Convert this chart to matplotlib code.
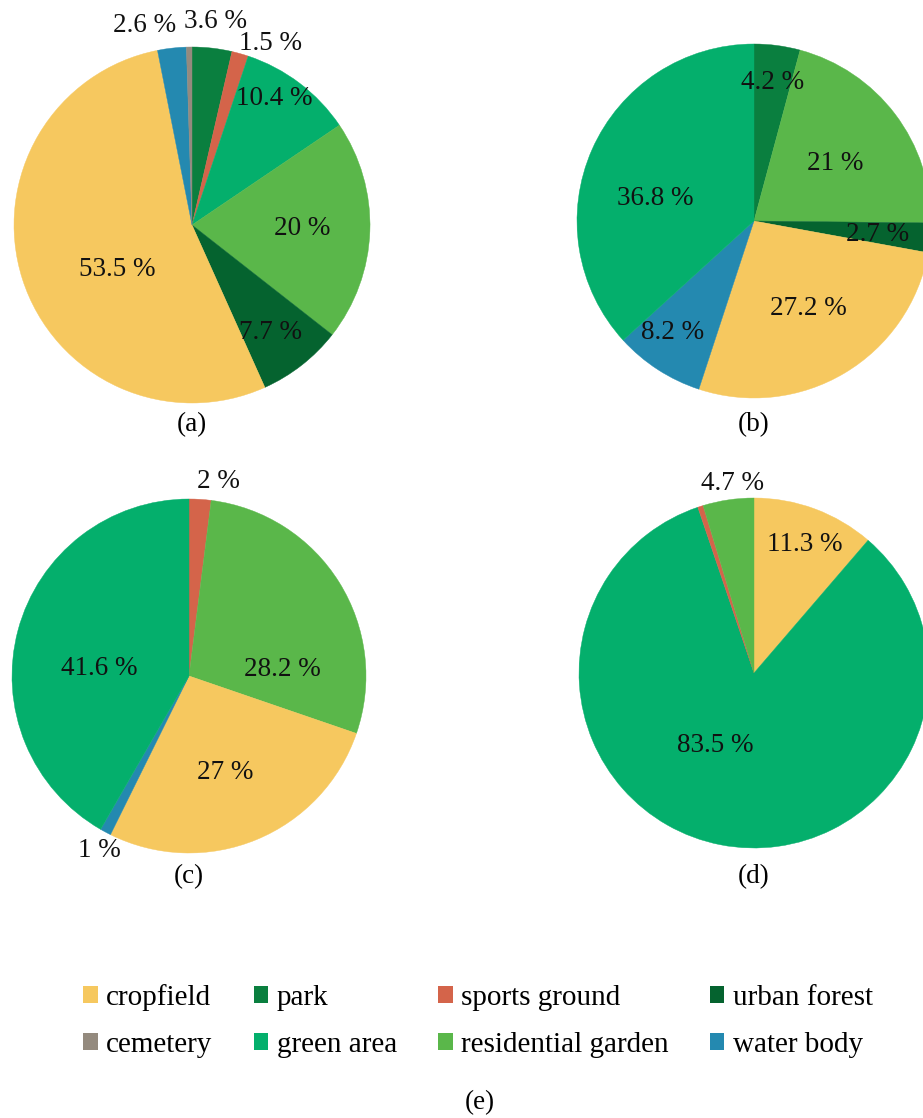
import matplotlib
matplotlib.use('Agg')
from matplotlib import pyplot as plt
from matplotlib.patches import Patch
import numpy as np

# land-use categories and colours
categories = ['cropfield', 'cemetery', 'park', 'green area',
              'sports ground', 'residential garden', 'urban forest', 'water body']
colors = {'cropfield': '#F6C85F', 'cemetery': '#948A7E', 'park': '#0A7F3F',
          'green area': '#04AF6C', 'sports ground': '#D4644A',
          'residential garden': '#5AB74A', 'urban forest': '#05632F',
          'water body': '#2489B0'}

# panel (a)
a_cats = ['park', 'sports ground', 'green area', 'residential garden',
          'urban forest', 'cropfield', 'water body', 'cemetery']
a_vals = [3.6, 1.5, 10.4, 20, 7.7, 53.5, 2.6, 0.5]
a_show = [True, True, True, True, True, True, True, False]

# panel (b)
b_cats = ['park', 'residential garden', 'urban forest', 'cropfield',
          'water body', 'green area']
b_vals = [4.2, 21, 2.7, 27.2, 8.2, 36.8]
b_show = [True] * 6

# panel (c)
c_cats = ['sports ground', 'residential garden', 'cropfield', 'water body',
          'green area']
c_vals = [2, 28.2, 27, 1, 41.6]
c_show = [True] * 5

# panel (d)
d_cats = ['cropfield', 'green area', 'sports ground', 'residential garden']
d_vals = [11.3, 83.5, 0.5, 4.7]
d_show = [True, True, False, True]

W, H = 923, 1118
FONT = 'Liberation Serif'
plt.rcParams['font.family'] = [FONT, 'DejaVu Serif']

fig = plt.figure(figsize=(W / 100, H / 100), dpi=100)


def draw_pie(cats, vals, show, cx, cy, r, lab_r, lab_turn, tag, tag_y):
    ax = fig.add_axes([(cx - r) / W, 1 - (cy + r) / H, 2 * r / W, 2 * r / H])
    wedges, _ = ax.pie(vals, colors=[colors[c] for c in cats], startangle=90,
                       counterclock=False, radius=1,
                       wedgeprops=dict(linewidth=0.3, edgecolor='none'))
    for w, c in zip(wedges, cats):
        w.set_edgecolor(colors[c])
    ax.set_xlim(-1, 1)
    ax.set_ylim(-1, 1)
    ax.set_aspect('equal')
    ax.axis('off')
    for w, v, s, rr, turn in zip(wedges, vals, show, lab_r, lab_turn):
        if not s:
            continue
        ang = np.deg2rad((w.theta1 + w.theta2) / 2 - turn)
        ax.text(rr * np.cos(ang), rr * np.sin(ang), f'{v:g} %',
                ha='center', va='center', fontsize=19.5, color='#111111')
    fig.text(cx / W, 1 - tag_y / H, tag, ha='center', va='center', fontsize=19.5)


draw_pie(a_cats, a_vals, a_show, 192, 225, 178,
         [1.15, 1.11, 0.85, 0.62, 0.75, 0.49, 1.15, 0],
         [0, 7.6, -4, 0, 2, -13, -7, 0], '(a)', 425)
draw_pie(b_cats, b_vals, b_show, 754, 221, 177,
         [0.79, 0.56, 0.70, 0.58, 0.78, 0.57],
         [0, 2, 1, -1, 3, -11], '(b)', 425)
draw_pie(c_cats, c_vals, c_show, 189, 676, 177,
         [1.11, 0.53, 0.58, 1.11, 0.51],
         [5, 28, 2, -1, -10], '(c)', 877)
draw_pie(d_cats, d_vals, d_show, 754, 673, 175,
         [0.79, 0.47, 0, 1.09],
         [1, 17, 0, 2], '(d)', 877)

handles = [Patch(facecolor=colors[c], edgecolor='none', label=c) for c in categories]
fig.legend(handles=handles, ncol=4, loc='center', frameon=False,
           bbox_to_anchor=(478 / W, 1 - 1021 / H), fontsize=21,
           handlelength=0.5, handleheight=0.5, handletextpad=0.3,
           columnspacing=1.4, labelspacing=0.72)

fig.text(480 / W, 1 - 1103 / H, '(e)', ha='center', va='center', fontsize=19.5)

plt.savefig('out.png', dpi=100)
